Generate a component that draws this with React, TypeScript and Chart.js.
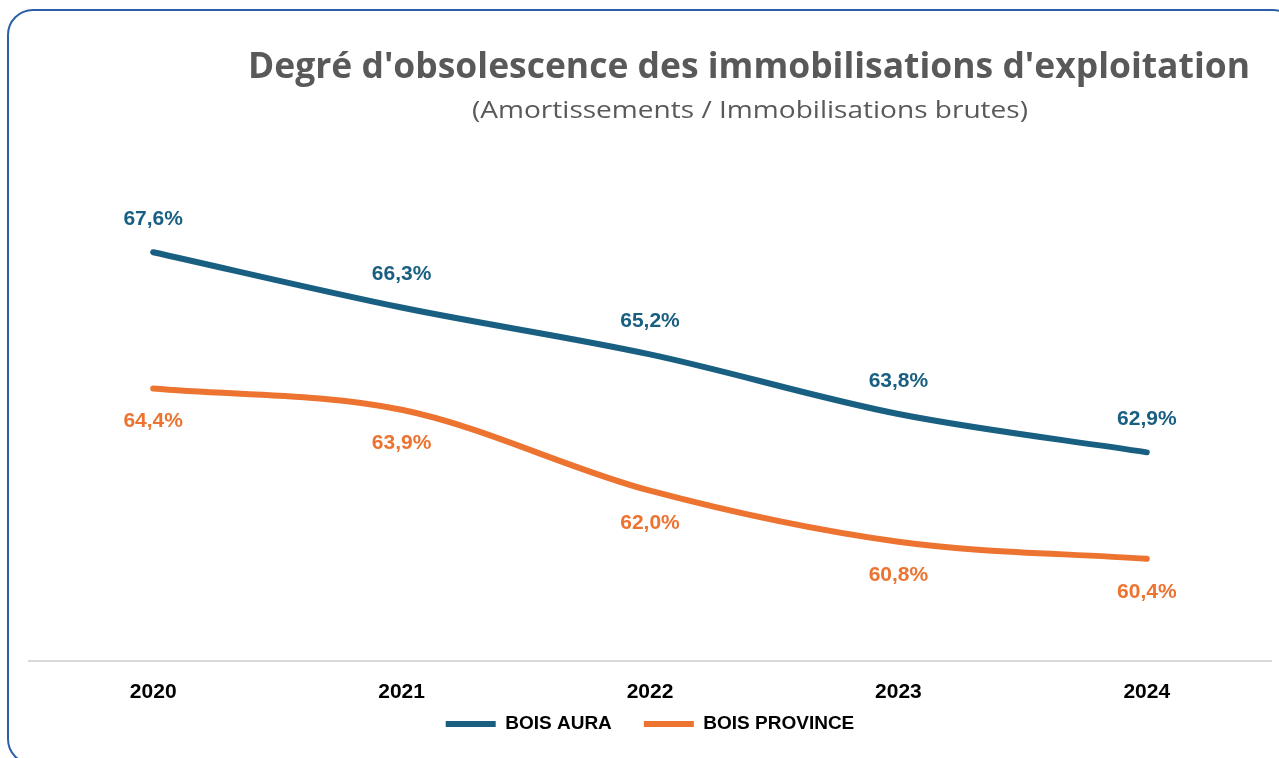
import React, { useEffect, useRef } from "react";
import { Chart, registerables } from "chart.js";

Chart.register(...registerables);

const TITLE = "Degré d'obsolescence des immobilisations d'exploitation";
const SUBTITLE = "(Amortissements / Immobilisations brutes)";
const YEARS = ["2020", "2021", "2022", "2023", "2024"];
const AURA_LABEL = "BOIS AURA";
const PROVINCE_LABEL = "BOIS PROVINCE";
const AURA_VALUES = [67.6, 66.3, 65.2, 63.8, 62.9];
const PROVINCE_VALUES = [64.4, 63.9, 62.0, 60.8, 60.4];

const AURA_COLOR = "#195f82";
const PROVINCE_COLOR = "#ed7331";

function drawFitted(ctx: CanvasRenderingContext2D, text: string, font: string, color: string, cx: number, baseline: number, width: number) {
  ctx.save();
  ctx.font = font;
  const m = ctx.measureText(text).width;
  const s = width / m;
  ctx.translate(cx, baseline);
  ctx.scale(s, 1);
  ctx.textAlign = "center";
  ctx.textBaseline = "alphabetic";
  ctx.fillStyle = color;
  ctx.fillText(text, 0, 0);
  ctx.restore();
}

const headerPlugin = {
  id: "headerText",
  afterDraw(chart: any) {
    const ctx = chart.ctx as CanvasRenderingContext2D;
    drawFitted(ctx, TITLE, 'bold 35px "Open Sans"', "#595959", 749, 78, 1002);
    drawFitted(ctx, SUBTITLE, '24px "Open Sans"', "#595959", 750, 118, 556);
  },
};

// place the legend row a fixed distance below the x axis line
const legendPlacePlugin = {
  id: "legendPlace",
  afterLayout(chart: any) {
    const lg = chart.legend;
    if (!lg) return;
    const targetTop = chart.chartArea.bottom + 21.5;
    lg.top = targetTop;
    lg.bottom = targetTop + 70;
    lg.height = 70;
  },
};

const valueLabelPlugin = {
  id: "valueLabels",
  afterDatasetsDraw(chart: any) {
    const ctx = chart.ctx as CanvasRenderingContext2D;
    ctx.save();
    ctx.font = 'bold 21px "Liberation Sans", Arial, sans-serif';
    ctx.textAlign = "center";
    ctx.textBaseline = "middle";
    chart.data.datasets.forEach((ds: any, i: number) => {
      const meta = chart.getDatasetMeta(i);
      const offset = i === 0 ? -33 : 33;
      ctx.fillStyle = ds.borderColor;
      meta.data.forEach((pt: any, j: number) => {
        const v = ds.data[j] as number;
        const txt = v.toFixed(1).replace(".", ",") + "%";
        ctx.fillText(txt, pt.x, pt.y + offset);
      });
    });
    ctx.restore();
  },
};

export default function App() {
  const canvasRef = useRef<HTMLCanvasElement | null>(null);

  useEffect(() => {
    if (!canvasRef.current) return;
    const chart = new Chart(canvasRef.current, {
      type: "line",
      data: {
        labels: YEARS,
        datasets: [
          {
            label: AURA_LABEL,
            data: AURA_VALUES,
            borderColor: AURA_COLOR,
            backgroundColor: AURA_COLOR,
            borderWidth: 6,
            borderCapStyle: "round",
            borderJoinStyle: "round",
            pointRadius: 0,
            tension: 0.33,
          },
          {
            label: PROVINCE_LABEL,
            data: PROVINCE_VALUES,
            borderColor: PROVINCE_COLOR,
            backgroundColor: PROVINCE_COLOR,
            borderWidth: 6,
            borderCapStyle: "round",
            borderJoinStyle: "round",
            pointRadius: 0,
            tension: 0.33,
          },
        ],
      },
      options: {
        responsive: false,
        animation: false,
        layout: { padding: { left: 29, right: 8, top: 150, bottom: 13.4 } },
        scales: {
          x: {
            offset: true,
            grid: { display: false, drawTicks: false },
            border: { display: true, color: "#d9d9d9", width: 2 },
            ticks: {
              padding: 18.4,
              color: "#000000",
              font: { family: '"Liberation Sans", Arial, sans-serif', size: 21, weight: "bold" },
            },
            afterFit: (scale: any) => {
              scale.height = 43.6;
            },
          },
          y: {
            display: false,
            min: 58,
            max: 70,
          },
        },
        plugins: {
          title: { display: false },
          tooltip: { enabled: false },
          legend: {
            display: true,
            position: "bottom",
            maxHeight: 40,
            labels: {
              usePointStyle: true,
              pointStyle: "line",
              pointStyleWidth: 50,
              padding: 32,
              color: "#000000",
              font: { family: '"Liberation Sans", Arial, sans-serif', size: 19, weight: "bold" },
            },
          },
        },
      },
      plugins: [headerPlugin, legendPlacePlugin, valueLabelPlugin],
    } as any);
    return () => chart.destroy();
  }, []);

  return (
    <div style={{ position: "fixed", left: 0, top: 0, width: 1279, height: 758, background: "#ffffff", overflow: "hidden" }}>
      <div
        style={{
          position: "absolute",
          left: 7,
          top: 9,
          width: 1292,
          height: 756,
          border: "2px solid #2c5fa9",
          borderRadius: 26,
          boxSizing: "border-box",
        }}
      />
      <canvas ref={canvasRef} width={1279} height={758} style={{ position: "absolute", left: 0, top: 0 }} />
    </div>
  );
}
